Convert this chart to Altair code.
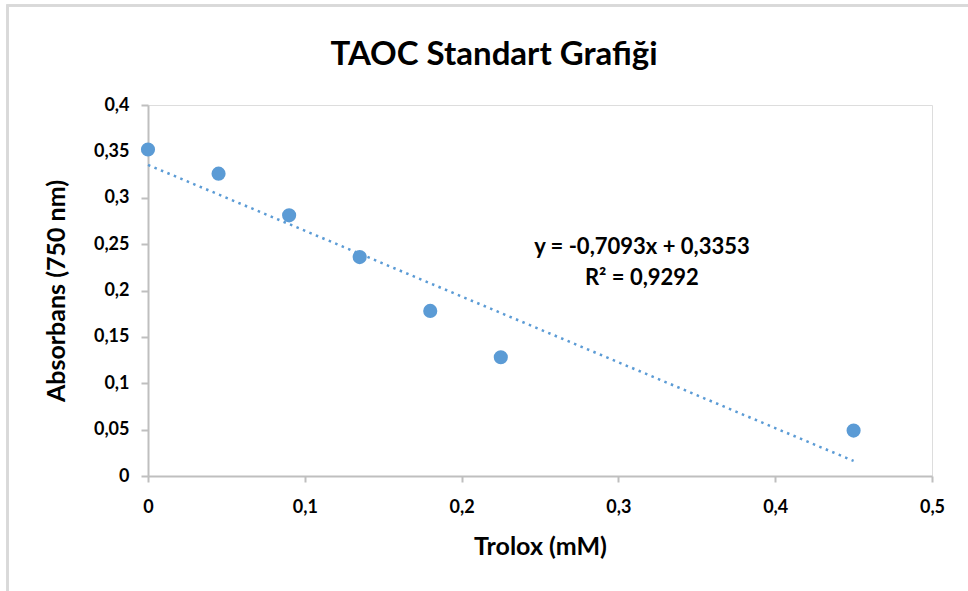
import altair as alt
import pandas as pd

trolox = [0, 0.045, 0.09, 0.135, 0.18, 0.225, 0.45]
absorbans = [0.352, 0.326, 0.281, 0.236, 0.178, 0.128, 0.049]

chart_title = "TAOC Standart Grafiği"
eq_lines = ["y = -0,7093x + 0,3353", "R² = 0,9292"]
eq_x = [0.315, 0.315]
eq_y = [0.2469, 0.2135]

x_ticks = [0, 0.1, 0.2, 0.3, 0.4, 0.5]
y_ticks = [0, 0.05, 0.1, 0.15, 0.2, 0.25, 0.3, 0.35, 0.4]

df = pd.DataFrame({"x": trolox, "y": absorbans})
eq_df = pd.DataFrame({"t": eq_lines, "x": eq_x, "y": eq_y})
title_df = pd.DataFrame({"t": [chart_title]})

FONT = "Lato"
GRAY = "#bfbfbf"
BLUE = "#5b9bd5"

xscale = alt.Scale(domain=[0, 0.5], nice=False, zero=True)
yscale = alt.Scale(domain=[0, 0.4], nice=False, zero=True)

label_expr = "replace(format(datum.value, '~g'), '.', ',')"

xaxis = alt.Axis(
    title="Trolox (mM)", values=x_ticks, labelExpr=label_expr, grid=False, labelFlush=False,
    domainColor=GRAY, domainWidth=2, tickColor=GRAY, tickWidth=2, tickSize=6,
    labelFont=FONT, labelFontWeight="bold", labelFontSize=18, labelColor="#000000",
    labelPadding=16, titleFont=FONT, titleFontWeight="bold", titleFontSize=25,
    titleColor="#000000", titlePadding=18,
)
yaxis = alt.Axis(
    title="Absorbans (750 nm)", values=y_ticks, labelExpr=label_expr, grid=False, labelFlush=False,
    domainColor=GRAY, domainWidth=2, tickColor=GRAY, tickWidth=2, tickSize=7,
    labelFont=FONT, labelFontWeight="bold", labelFontSize=18, labelColor="#000000",
    labelPadding=12, titleFont=FONT, titleFontWeight="bold", titleFontSize=25,
    titleColor="#000000", titlePadding=24,
)

points = alt.Chart(df).mark_circle(size=200, color=BLUE, opacity=1).encode(
    x=alt.X("x:Q", scale=xscale, axis=xaxis),
    y=alt.Y("y:Q", scale=yscale, axis=yaxis),
)

trend = alt.Chart(df).transform_regression("x", "y").mark_line(
    color=BLUE, strokeWidth=2.5, strokeDash=[2.5, 4.5]
).encode(x=alt.X("x:Q", scale=xscale), y=alt.Y("y:Q", scale=yscale))

eq = alt.Chart(eq_df).mark_text(
    font=FONT, fontWeight="bold", fontSize=22, color="#000000", align="center", baseline="middle"
).encode(x=alt.X("x:Q", scale=xscale), y=alt.Y("y:Q", scale=yscale), text="t:N")

title = alt.Chart(title_df).mark_text(
    font=FONT, fontWeight="bold", fontSize=33, color="#000000", align="center", baseline="middle"
).encode(x=alt.value(346), y=alt.value(-50), text="t:N")

border_left = alt.Chart(df).mark_rule(color="#d9d9d9", strokeWidth=2).encode(
    x=alt.value(-140.5), y=alt.value(-99), y2=alt.value(490)
)
border_top = alt.Chart(df).mark_rule(color="#d9d9d9", strokeWidth=2).encode(
    x=alt.value(-141.5), x2=alt.value(830), y=alt.value(-99.5)
)

chart = alt.layer(border_left, border_top, trend, points, eq, title).properties(
    width=784, height=371,
    autosize=alt.AutoSizeParams(type="none"),
    padding={"left": 148, "top": 105, "right": 36, "bottom": 115},
).configure_view(stroke=None).configure(background="white")

chart.save("out.html", embed_options={"renderer": "svg", "actions": False})
